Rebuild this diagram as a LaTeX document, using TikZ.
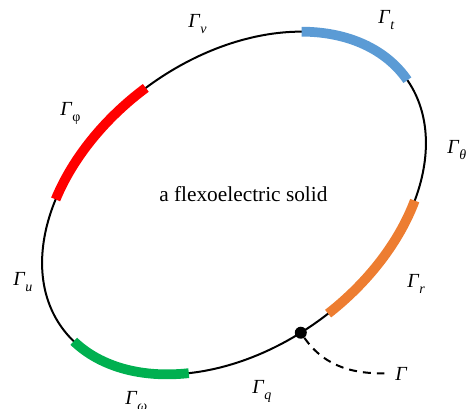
\documentclass[tikz,border=0pt]{standalone}
\usepackage{fontspec}
\setmainfont{Liberation Serif}
\usepackage{tikz}
\usetikzlibrary{positioning, arrows.meta}
\definecolor{bndblue}{RGB}{91,155,213}
\definecolor{bndred}{RGB}{255,0,0}
\definecolor{bndgreen}{RGB}{0,176,80}
\definecolor{bndorange}{RGB}{237,125,49}
\newcommand{\bnd}[1]{\textit{Γ}\raisebox{-0.3em}{\fontsize{10.5}{12}\selectfont\itshape #1}}

\begin{document}
\begin{tikzpicture}[x=0.75pt, y=0.75pt,
  rim/.style={line width=1.5pt, black},
  band/.style={line width=7.3pt},
  lbl/.style={font=\fontsize{15}{17}\selectfont, inner sep=0pt, anchor=base west},
  dot/.style={circle, fill=black, inner sep=0pt, minimum size=9pt}
]
\useasboundingbox (0,0) rectangle (474,408);
\begin{scope}[shift={(234,205)}, rotate=36]
\draw[rim] (0,0) ellipse [x radius=212.5, y radius=145];
\draw[band, bndblue] (43:212.5 and 145) arc [start angle=43, end angle=-1, x radius=212.5, y radius=145];
\draw[band, bndred] (91:212.5 and 145) arc [start angle=91, end angle=132, x radius=212.5, y radius=145];
\draw[band, bndgreen] (187:212.5 and 145) arc [start angle=187, end angle=230, x radius=212.5, y radius=145];
\draw[band, bndorange] (273:212.5 and 145) arc [start angle=273, end angle=314, x radius=212.5, y radius=145];
\node[dot] (pt) at (264:212.5 and 145) {};
\end{scope}
\node[lbl, font=\fontsize{16}{19}\selectfont] (body) at (159,207) {a flexoelectric solid};
\node[lbl] (gv) at (188,380) {\bnd{v}};
\node[lbl] (gt) at (378,384) {\bnd{t}};
\node[lbl] (gth) at (447,255) {\bnd{θ}};
\node[lbl] (gph) at (60,293) {\textit{Γ}\raisebox{-0.3em}{\fontsize{10.5}{12}\selectfont φ}};
\node[lbl] (gu) at (13,123) {\bnd{u}};
\node[lbl] (gw) at (125,4) {\bnd{ω}};
\node[lbl] (gq) at (252,15) {\bnd{q}};
\node[lbl] (gr) at (407,121) {\bnd{r}};
\node[lbl] (gam) at (395,28) {\textit{Γ}};
\draw[line width=1.5pt, dash pattern=on 6pt off 4.5pt, shorten >=8pt] (pt) to[out=-55, in=180] (gam);
\end{tikzpicture}
\end{document}
